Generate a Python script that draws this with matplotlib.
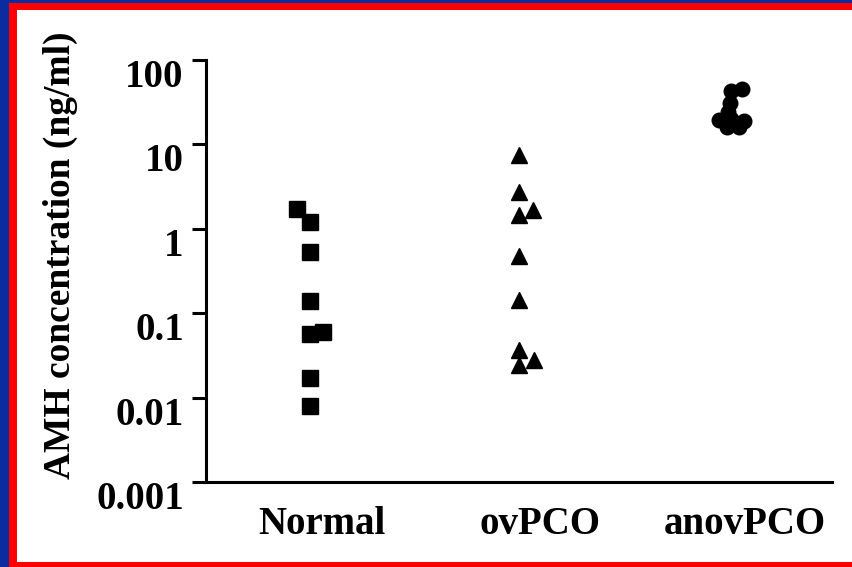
import matplotlib.pyplot as plt
import matplotlib.transforms as mtransforms
from matplotlib.patches import Rectangle

# AMH values (ng/ml)
groups = ["Normal", "ovPCO", "anovPCO"]

normal_vals = [1.7, 1.2, 0.53, 0.14, 0.057, 0.06, 0.017, 0.008]
normal_jitter = [-0.062, 0.0, 0.0, 0.0, 0.0, 0.062, 0.0, 0.0]

ovpco_vals = [7.5, 2.7, 1.47, 1.68, 0.47, 0.144, 0.037, 0.0245, 0.028]
ovpco_jitter = [0.0, 0.0, 0.0, 0.065, 0.0, 0.0, 0.0, 0.0, 0.072]

anov_vals = [45.6, 43, 31, 24.3, 19.6, 20.1, 19, 16.2, 16.2]
anov_jitter = [0.043, -0.01, -0.014, -0.024, -0.067, -0.01, 0.053, -0.029, 0.029]

ytick_vals = [0.001, 0.01, 0.1, 1, 10, 100]
ytick_labels = ["0.001", "0.01", "0.1", "1", "10", "100"]

group_x = [0.5, 1.5, 2.525]
label_x = [0.556, 1.6, 2.583]

fig = plt.figure(figsize=(8.52, 5.67), dpi=100)
fig.patch.set_facecolor("#0a2c9e")
W, H = 852.0, 567.0
fig.patches.append(Rectangle((9 / W, 0), 1, (H - 3) / H, transform=fig.transFigure,
                             facecolor="#ff0000", edgecolor="none", zorder=-2))
fig.patches.append(Rectangle((17 / W, 5 / H), 1, (H - 15) / H, transform=fig.transFigure,
                             facecolor="white", edgecolor="none", zorder=-1))

ax = fig.add_axes([206 / W, 1 - 482 / H, 626 / W, 422 / H])
ax.patch.set_alpha(0)

ax.plot([group_x[0] + j for j in normal_jitter], normal_vals, linestyle="none",
        marker="s", markersize=11, color="black")
ax.plot([group_x[1] + j for j in ovpco_jitter], ovpco_vals, linestyle="none",
        marker="^", markersize=12, color="black")
ax.plot([group_x[2] + j for j in anov_jitter], anov_vals, linestyle="none",
        marker="o", markersize=10.5, color="black")

ax.set_yscale("log")
ax.set_ylim(0.001, 100)
ax.set_xlim(0, 3)
ax.set_yticks(ytick_vals)
ax.set_yticklabels(ytick_labels)
ax.yaxis.set_minor_locator(plt.NullLocator())
ax.set_xticks(label_x)
ax.set_xticklabels(groups)

font = {"family": "Liberation Serif", "weight": "bold"}
ax.tick_params(axis="y", length=10, width=2.2, pad=6, labelsize=28)
ax.tick_params(axis="x", length=0, pad=17, labelsize=28)
for lbl in ax.get_yticklabels() + ax.get_xticklabels():
    lbl.set_fontfamily("Liberation Serif")
    lbl.set_fontweight("bold")

shift = mtransforms.ScaledTranslation(0, 0.01, fig.dpi_scale_trans)
for lbl in ax.get_yticklabels():
    lbl.set_va("top")
    lbl.set_transform(lbl.get_transform() + shift)

ax.spines["top"].set_visible(False)
ax.spines["right"].set_visible(False)
ax.spines["left"].set_linewidth(2.2)
ax.spines["bottom"].set_linewidth(2.2)

ax.set_ylabel("AMH concentration (ng/ml)", fontdict=font, fontsize=27)
ax.yaxis.set_label_coords(-0.233, 0.538)
ax.yaxis.label.set_va("center")

plt.savefig("out.png", dpi=100, facecolor=fig.get_facecolor())
